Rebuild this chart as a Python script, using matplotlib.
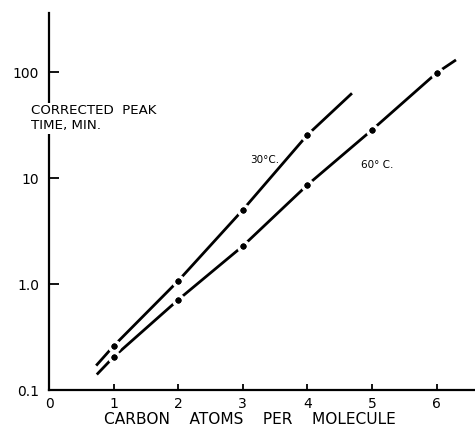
import matplotlib
matplotlib.use("Agg")
import matplotlib.pyplot as plt

# Data
t30_x = [1, 2, 3, 4]
t30_y = [0.26, 1.07, 5.0, 25.5]
t60_x = [1, 2, 3, 4, 5, 6]
t60_y = [0.205, 0.71, 2.28, 8.6, 28.4, 98.0]
# drawn lines, including the extended ends
line30_x = [0.73, 1, 2, 3, 4, 4.69]
line30_y = [0.17, 0.26, 1.07, 5.0, 25.5, 63.0]
line60_x = [0.74, 1, 2, 3, 4, 5, 6, 6.30]
line60_y = [0.14, 0.205, 0.71, 2.28, 8.6, 28.4, 98.0, 130.0]
ytick_vals = [0.1, 1.0, 10, 100]
ytick_labels = ["0.1", "1.0", "10", "100"]
xtick_vals = [1, 2, 3, 4, 5, 6]
xtick_labels = ["1", "2", "3", "4", "5", "6"]

W, H = 475, 432
fig = plt.figure(figsize=(W / 100, H / 100), dpi=100)
left, bottom, top = 49, 390, 13
ax = fig.add_axes([left / W, (H - bottom) / H, (W - left) / W, (bottom - top) / H])
ax.set_yscale("log")
ax.set_xlim(0, (W - left) / 64.6)
ax.set_ylim(0.1, 10 ** (-1 + (bottom - top) / 106))

for s in ["top", "right"]:
    ax.spines[s].set_visible(False)
for s in ["left", "bottom"]:
    ax.spines[s].set_linewidth(1.6)
    ax.spines[s].set_color("black")

for lx, ly in [(line30_x, line30_y), (line60_x, line60_y)]:
    ax.plot(lx, ly, color="black", lw=2.0, solid_capstyle="butt", zorder=2)
for px, py in [(t30_x, t30_y), (t60_x, t60_y)]:
    ax.plot(px, py, "o", color="black", ms=7, mec="white", mew=2.5, zorder=3, clip_on=False)
    ax.plot(px, py, "o", color="black", ms=4.3, mew=0, zorder=4, clip_on=False)

fs = 10
ax.set_yticks(ytick_vals)
ax.set_yticklabels(ytick_labels, fontsize=fs)
ax.yaxis.set_minor_locator(matplotlib.ticker.NullLocator())
ax.tick_params(axis="y", direction="in", length=7, width=1.3, pad=7)
ax.set_xticks(xtick_vals)
ax.set_xticklabels(xtick_labels, fontsize=fs)
ax.tick_params(axis="x", direction="in", length=4, width=1.3, pad=5)

fig.text(left / W, 1 - 404 / H, "0", ha="center", va="center", fontsize=fs)

fig.text(250 / W, 1 - 420 / H, "CARBON    ATOMS    PER    MOLECULE", ha="center",
         va="center", fontsize=11.1)

fig.text(31 / W, 1 - 104 / H, "CORRECTED  PEAK\nTIME, MIN.", ha="left", va="top",
         fontsize=9.6, linespacing=1.25,
         bbox=dict(facecolor="white", edgecolor="none", pad=1.0), zorder=10)

fig.text(250 / W, 1 - 160 / H, "30°C.", fontsize=7.5, va="center", ha="left")
fig.text(361 / W, 1 - 165 / H, "60° C.", fontsize=7.5, va="center", ha="left")

fig.savefig("out.png", dpi=100)
